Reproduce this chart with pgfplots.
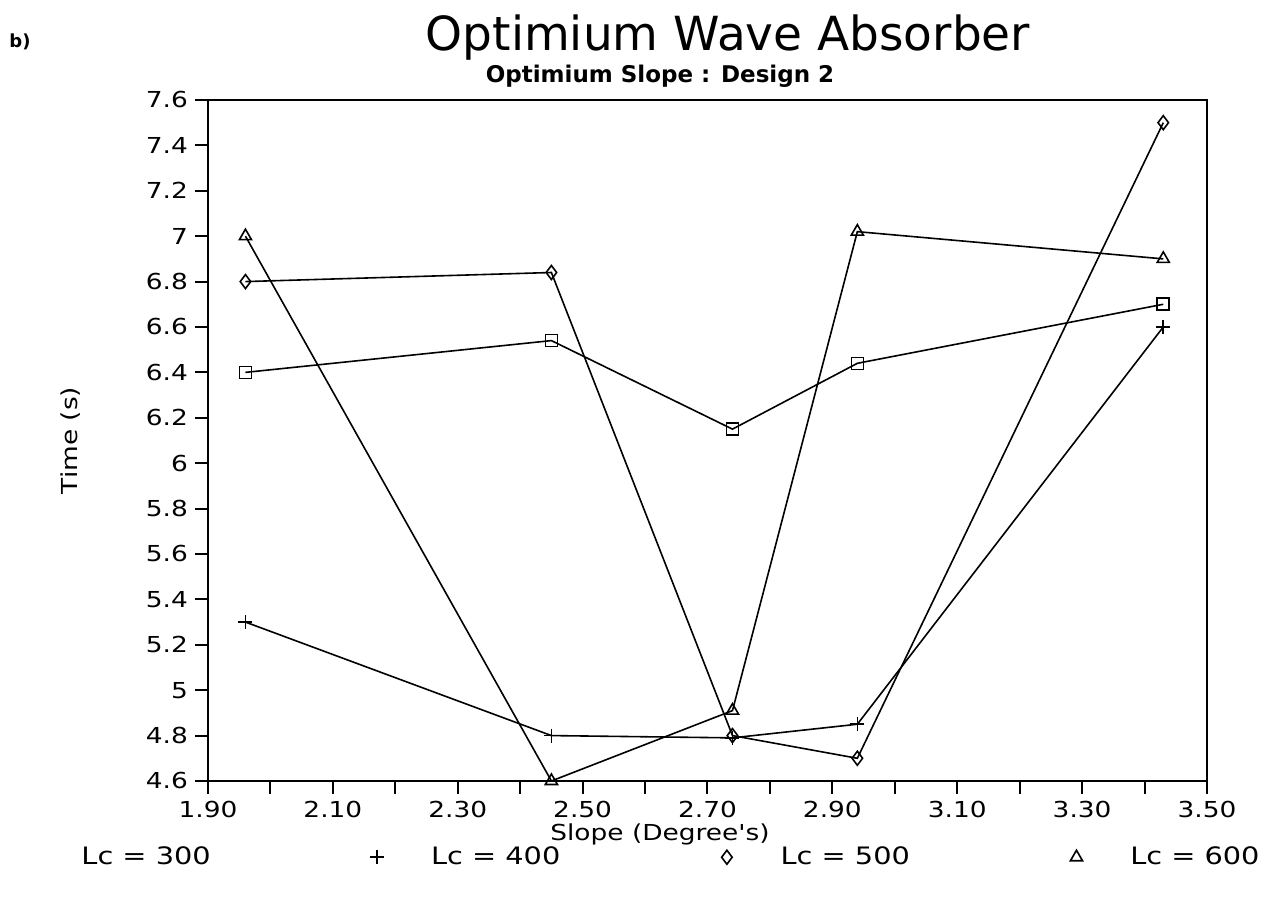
\documentclass[border=0pt]{standalone}
\usepackage{pgfplots}
\pgfplotsset{compat=1.18}
\usepackage{fontspec}
\setmainfont{DejaVu Sans}
\newfontfamily\wide[FakeStretch=1.2]{DejaVu Sans}
\begin{document}
\begin{tikzpicture}
\begin{axis}[
  at={(0pt,0pt)}, anchor=south west,
  scale only axis,
  width=499.5pt, height=340.5pt,
  xmin=1.9, xmax=3.5, ymin=4.6, ymax=7.6,
  xtick={1.9,2.0,2.1,2.2,2.3,2.4,2.5,2.6,2.7,2.8,2.9,3.0,3.1,3.2,3.3,3.4,3.5},
  xticklabels={1.90,,2.10,,2.30,,2.50,,2.70,,2.90,,3.10,,3.30,,3.50},
  ytick={4.6,4.8,5,5.2,5.4,5.6,5.8,6,6.2,6.4,6.6,6.8,7,7.2,7.4,7.6},
  yticklabels={4.6,4.8,5,5.2,5.4,5.6,5.8,6,6.2,6.4,6.6,6.8,7,7.2,7.4,7.6},
  tick align=outside, tick pos=left,
  major tick length=6.5pt,
  axis line style={line width=1.1pt},
  every tick/.style={black, line width=1pt},
  tick label style={font=\wide\fontsize{11}{13}\selectfont},
  xticklabel style={yshift=0pt},
  /pgf/number format/assume math mode=true,
  xlabel={Slope (Degree's)},
  xlabel style={at={(axis description cs:0.4525,-0.079)}, anchor=center, font=\wide\fontsize{11}{13}\selectfont},
  ylabel={Time (s)},
  ylabel style={at={(axis description cs:-0.138,0.5)}, anchor=center, font=\wide\fontsize{11}{13}\selectfont},
  legend columns=4,
  legend style={draw=none, fill=none, at={(axis description cs:-0.1983,-0.112)}, anchor=west,
    inner sep=0pt, outer sep=0pt, font=\wide\fontsize{12}{14}\selectfont,
    nodes={inner sep=0pt},
    /tikz/every odd column/.append style={column sep=18pt},
    /tikz/every even column/.append style={column sep=74pt}},
  legend image code/.code={\path (0pt,0pt) (17pt,0pt); \draw[#1] plot[only marks] coordinates {(8.5pt,0pt)};},
]
\addplot[black, line width=0.8pt, mark=square, mark size=3pt, mark options={solid},
  legend image code/.code={\path (0pt,0pt) (17pt,0pt);}]
  coordinates {(1.96,6.40) (2.45,6.54) (2.74,6.15) (2.94,6.44) (3.43,6.70)};
\addlegendentry{\makebox[65pt][l]{Lc = 300}}
\addplot[black, line width=0.8pt, mark=+, mark size=3.5pt, mark options={solid}]
  coordinates {(1.96,5.30) (2.45,4.80) (2.74,4.79) (2.94,4.85) (3.43,6.60)};
\addlegendentry{\makebox[65pt][l]{Lc = 400}}
\addplot[black, line width=0.8pt, mark=diamond, mark size=3.5pt, mark options={solid}]
  coordinates {(1.96,6.80) (2.45,6.84) (2.74,4.80) (2.94,4.70) (3.43,7.50)};
\addlegendentry{\makebox[65pt][l]{Lc = 500}}
\addplot[black, line width=0.8pt, mark=triangle, mark size=3.5pt, mark options={solid}]
  coordinates {(1.96,7.00) (2.45,4.60) (2.74,4.91) (2.94,7.02) (3.43,6.90)};
\addlegendentry{\makebox[65pt][l]{Lc = 600}}
\end{axis}
\node[font=\fontsize{23.5}{27}\selectfont] at (260pt,371.5pt) {Optimium Wave Absorber};
\node[font=\bfseries\fontsize{11.5}{13}\selectfont] at (226pt,352.5pt) {Optimium Slope : Design 2};
\node[font=\bfseries\fontsize{9}{11}\selectfont] at (-94pt,369.5pt) {b)};
\path (-104pt,-58pt) rectangle (529pt,390.5pt);
\end{tikzpicture}
\end{document}
